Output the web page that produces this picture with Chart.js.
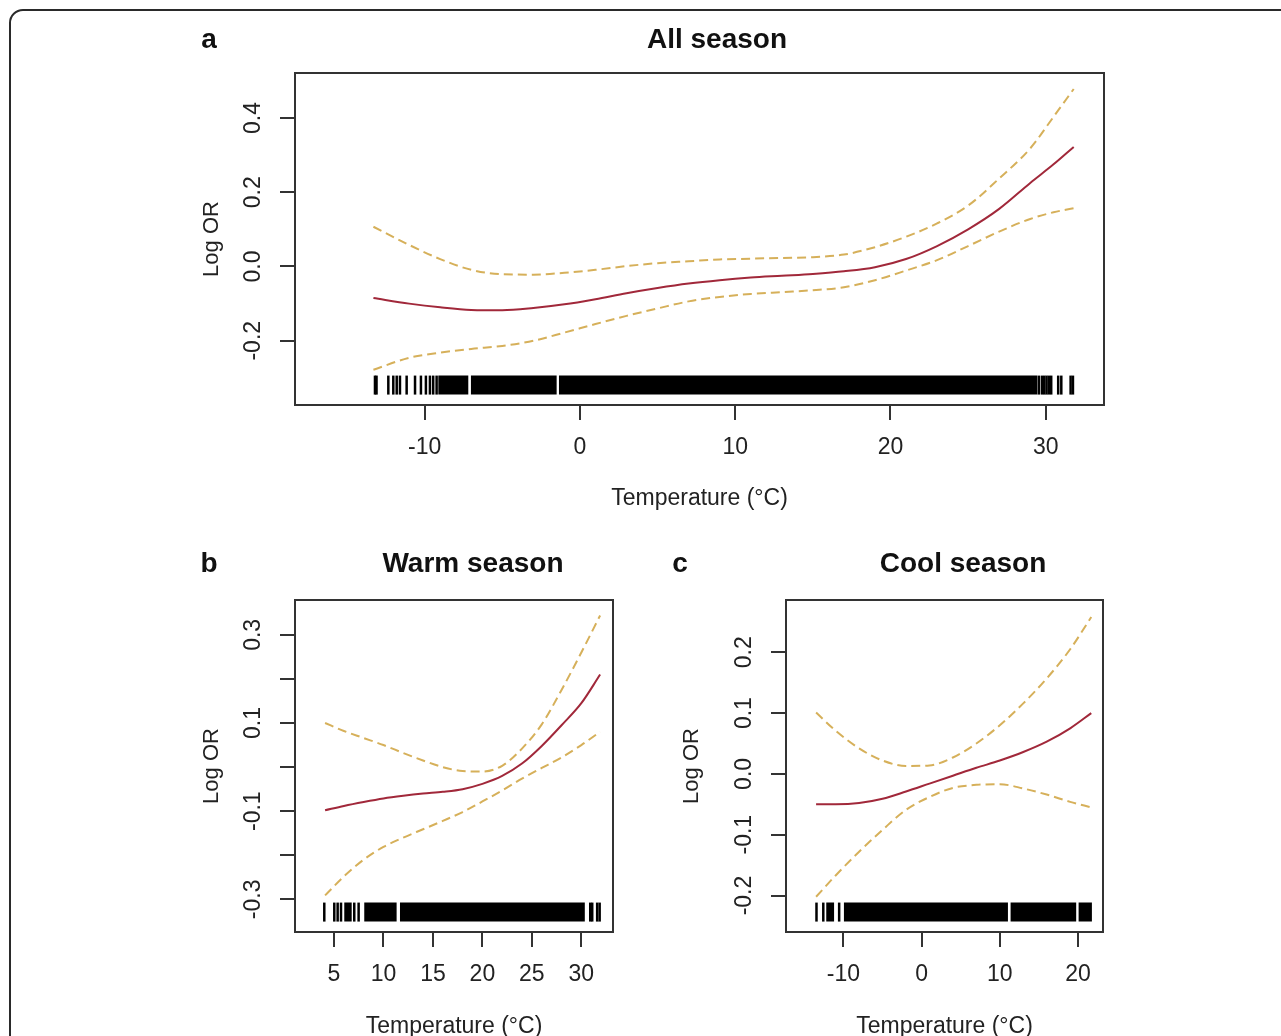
<!DOCTYPE html>
<html>
<head>
<meta charset="utf-8">
<script src="https://cdn.jsdelivr.net/npm/chart.js@4.4.1/dist/chart.umd.min.js"></script>
<style>
body { margin: 0; width: 1281px; height: 1036px; overflow: hidden; background: #fff; position: relative;
       font-family: "Liberation Sans", Arial, sans-serif; }
.outer { position: absolute; left: 9px; top: 9px; width: 1320px; height: 1100px; border: 2px solid #2a2a2a; border-radius: 14px; }
canvas { position: absolute; }
.lbl { position: absolute; font-weight: bold; font-size: 28px; color: #111; transform: translate(-50%, -50%);
       white-space: nowrap; z-index: 2; line-height: 1; }
</style>
</head>
<body>
<div class="outer"></div>
<div class="lbl" style="left:209px;top:39px">a</div>
<div class="lbl" style="left:717px;top:39px">All season</div>
<div class="lbl" style="left:209px;top:563px">b</div>
<div class="lbl" style="left:473px;top:563px">Warm season</div>
<div class="lbl" style="left:680px;top:563px">c</div>
<div class="lbl" style="left:963px;top:563px">Cool season</div>

<canvas id="chartA" width="960" height="480" style="left:170px;top:40px"></canvas>
<canvas id="chartB" width="470" height="480" style="left:170px;top:570px"></canvas>
<canvas id="chartC" width="470" height="480" style="left:660px;top:570px"></canvas>

<script>
// a: all season
const tempA  = [-13.3, -11, -9, -7, -5, -3, -1, 1, 3, 5, 7, 9, 11, 13, 15, 17, 19, 21, 23, 25, 27, 29, 30.5, 31.8];
const fitA   = [-0.085, -0.100, -0.110, -0.117, -0.118, -0.112, -0.102, -0.088, -0.072, -0.058, -0.046, -0.037,
                -0.030, -0.025, -0.020, -0.013, -0.002, 0.020, 0.055, 0.100, 0.155, 0.225, 0.275, 0.322];
const upperA = [0.107, 0.058, 0.020, -0.009, -0.021, -0.022, -0.017, -0.009, 0.001, 0.009, 0.014, 0.019,
                0.021, 0.023, 0.025, 0.032, 0.052, 0.080, 0.116, 0.164, 0.237, 0.318, 0.403, 0.478];
const lowerA = [-0.278, -0.246, -0.232, -0.222, -0.214, -0.200, -0.178, -0.155, -0.133, -0.113, -0.094, -0.082,
                -0.074, -0.069, -0.064, -0.056, -0.037, -0.011, 0.017, 0.055, 0.094, 0.128, 0.146, 0.157];
const rugTicksA  = [-13.2, -13.1, -12.34, -12.02, -11.8, -11.59, -11.16, -10.62, -10.24, -9.92, -9.66, -9.45, -9.23,
                    29.55, 29.75, 29.9, 30.05, 30.2, 30.35, 30.8, 31.0, 31.6, 31.75];
const rugBlocksA = [[-9.12, -7.19], [-7.02, -1.5], [-1.35, 29.45]];

// b: warm season
const tempB  = [4.1, 6, 8, 10, 12, 14, 16, 18, 20, 22, 24, 26, 28, 30, 31.9];
const fitB   = [-0.098, -0.088, -0.079, -0.071, -0.065, -0.060, -0.056, -0.050, -0.038, -0.020, 0.008, 0.048, 0.095, 0.145, 0.210];
const upperB = [0.100, 0.082, 0.066, 0.050, 0.032, 0.015, 0.000, -0.009, -0.010, 0.003, 0.042, 0.097, 0.175, 0.260, 0.344];
const lowerB = [-0.291, -0.248, -0.210, -0.181, -0.160, -0.141, -0.122, -0.102, -0.078, -0.053, -0.026, -0.002, 0.022, 0.050, 0.080];
const rugTicksB  = [4.02, 5.03, 5.37, 5.71, 7.05, 7.49, 30.9, 31.1, 31.6, 31.85];
const rugBlocksB = [[6.04, 6.79], [8.06, 11.33], [11.67, 30.35]];

// c: cool season
const tempC  = [-13.5, -11, -8, -5, -2, 1, 4, 7, 10, 13, 16, 19, 21.7];
const fitC   = [-0.050, -0.050, -0.048, -0.041, -0.029, -0.016, -0.003, 0.010, 0.022, 0.036, 0.053, 0.075, 0.100];
const upperC = [0.101, 0.071, 0.042, 0.022, 0.013, 0.014, 0.027, 0.050, 0.080, 0.116, 0.157, 0.205, 0.258];
const lowerC = [-0.202, -0.167, -0.128, -0.092, -0.059, -0.038, -0.023, -0.018, -0.017, -0.024, -0.034, -0.046, -0.055];
const rugTicksC  = [-13.45, -12.58, -10.55];
const rugBlocksC = [[-12.2, -11.2], [-9.94, 11.04], [11.38, 19.77], [20.08, 21.78]];

const RED = '#a1283a';
const GOLD = '#d6b05a';
const INK = '#222';
const RUG_LEVEL = 0.06;

Chart.defaults.font.family = '"Liberation Sans", Arial, sans-serif';
Chart.defaults.color = INK;

function toPoints(xs, ys) {
    return xs.map((x, i) => ({x: x, y: ys[i]}));
}

function blockPoints(blocks) {
    const pts = [];
    blocks.forEach(b => {
        pts.push({x: b[0], y: RUG_LEVEL}, {x: b[1], y: RUG_LEVEL}, {x: b[1], y: null});
    });
    return pts;
}

// box round the plot region, like R's bty="o"
const framePlugin = {
    id: 'frame',
    afterDraw(chart) {
        const ctx = chart.ctx, a = chart.chartArea;
        ctx.save();
        ctx.strokeStyle = '#333';
        ctx.lineWidth = 2;
        ctx.strokeRect(a.left, a.top, a.right - a.left, a.bottom - a.top);
        ctx.restore();
    }
};

const oneDecimal = v => (Math.round(v * 10) / 10).toFixed(1);
const oddTenths = v => (Math.abs(Math.round(v * 10)) % 2 === 1 ? oneDecimal(v) : '');

function drawPanel(id, p) {
    const tickGrid = {drawOnChartArea: false, drawTicks: true, tickLength: 15, color: '#333', lineWidth: 2};
    new Chart(document.getElementById(id), {
        type: 'line',
        data: {
            datasets: [
                {label: 'fit', data: toPoints(p.temp, p.fit), borderColor: RED, borderWidth: 2,
                 pointRadius: 0, cubicInterpolationMode: 'monotone'},
                {label: 'upper', data: toPoints(p.temp, p.upper), borderColor: GOLD, borderWidth: 2,
                 borderDash: [9, 5], pointRadius: 0, cubicInterpolationMode: 'monotone'},
                {label: 'lower', data: toPoints(p.temp, p.lower), borderColor: GOLD, borderWidth: 2,
                 borderDash: [9, 5], pointRadius: 0, cubicInterpolationMode: 'monotone'},
                {type: 'scatter', label: 'rug', data: p.rugTicks.map(x => ({x: x, y: RUG_LEVEL})), yAxisID: 'yr',
                 pointStyle: 'line', pointRotation: 90, pointRadius: 9.5, pointBorderWidth: 2.5,
                 pointBorderColor: '#000', pointBackgroundColor: '#000'},
                {label: 'rug blocks', data: blockPoints(p.rugBlocks), yAxisID: 'yr', borderColor: '#000',
                 borderWidth: 19, borderCapStyle: 'butt', pointRadius: 0, spanGaps: false}
            ]
        },
        options: {
            responsive: false,
            animation: false,
            events: [],
            layout: {padding: p.pad},
            plugins: {legend: {display: false}, tooltip: {enabled: false}},
            scales: {
                x: {
                    type: 'linear', position: 'bottom', min: p.xMin, max: p.xMax,
                    ticks: {stepSize: p.xStep, includeBounds: false, autoSkip: false, maxRotation: 0,
                            padding: 14, color: INK, font: {size: 23}},
                    grid: tickGrid,
                    border: {display: false},
                    title: {display: true, text: 'Temperature (°C)', color: INK, font: {size: 23},
                            padding: {top: 0, bottom: p.xTitlePad}},
                    afterFit: s => { s.height = p.xHeight; }
                },
                y: {
                    type: 'linear', position: 'left', min: p.yMin, max: p.yMax,
                    ticks: {stepSize: p.yStep, includeBounds: false, autoSkip: false, minRotation: 90, maxRotation: 90,
                            crossAlign: 'center', padding: 7, color: INK, font: {size: 23}, callback: p.yLabel},
                    grid: tickGrid,
                    border: {display: false},
                    title: {display: true, text: 'Log OR', color: INK, font: {size: 22},
                            padding: {top: p.yTitlePad, bottom: 0}},
                    afterFit: s => { s.width = p.yWidth; }
                },
                yr: {type: 'linear', display: false, min: 0, max: 1}
            }
        },
        plugins: [framePlugin]
    });
}

drawPanel('chartA', {
    temp: tempA, fit: fitA, upper: upperA, lower: lowerA, rugTicks: rugTicksA, rugBlocks: rugBlocksA,
    xMin: -18.35, xMax: 33.75, xStep: 10, yMin: -0.373, yMax: 0.521, yStep: 0.2, yLabel: oneDecimal,
    pad: {top: 33, right: 26, bottom: 0, left: 0}, yWidth: 125, xHeight: 115, xTitlePad: 8, yTitlePad: 29
});

drawPanel('chartB', {
    temp: tempB, fit: fitB, upper: upperB, lower: lowerB, rugTicks: rugTicksB, rugBlocks: rugBlocksB,
    xMin: 1.06, xMax: 33.2, xStep: 5, yMin: -0.374, yMax: 0.379, yStep: 0.1, yLabel: oddTenths,
    pad: {top: 30, right: 27, bottom: 0, left: 0}, yWidth: 125, xHeight: 118, xTitlePad: 10, yTitlePad: 29
});

drawPanel('chartC', {
    temp: tempC, fit: fitC, upper: upperC, lower: lowerC, rugTicks: rugTicksC, rugBlocks: rugBlocksC,
    xMin: -17.35, xMax: 23.2, xStep: 10, yMin: -0.26, yMax: 0.286, yStep: 0.1, yLabel: oneDecimal,
    pad: {top: 30, right: 27, bottom: 0, left: 0}, yWidth: 126, xHeight: 118, xTitlePad: 10, yTitlePad: 19
});
</script>
</body>
</html>
